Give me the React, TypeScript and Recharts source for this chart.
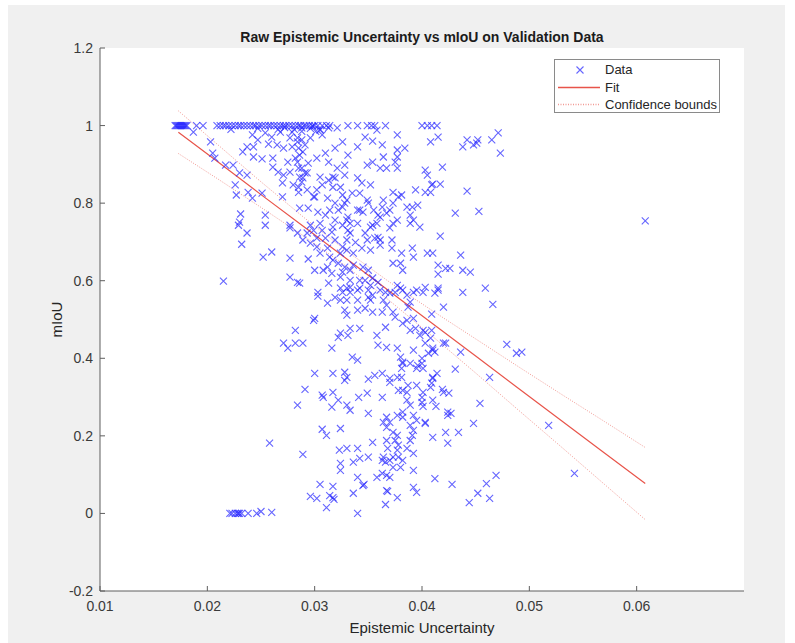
import { ComposedChart, Scatter, Line, XAxis, YAxis, ReferenceArea, Legend } from 'recharts'

// validation samples with a perfect score (mIoU = 1)
const perfectScoreX = [
  0.0170, 0.0171, 0.0172, 0.0173, 0.0174, 0.0175, 0.0176, 0.0177, 0.0178, 0.0179, 0.0180, 0.0181,
  0.0190, 0.0196, 0.0209, 0.0212, 0.0215, 0.0217, 0.0220, 0.0223, 0.0226, 0.0229, 0.0231, 0.0234,
  0.0237, 0.0240, 0.0243, 0.0245, 0.0248, 0.0251, 0.0254, 0.0257, 0.0259, 0.0262, 0.0265, 0.0268,
  0.0271, 0.0273, 0.0276, 0.0279, 0.0282, 0.0285, 0.0287, 0.0290, 0.0292, 0.0295, 0.0298, 0.0300,
  0.0303, 0.0307, 0.0311, 0.0314, 0.0331, 0.0340, 0.0349, 0.0353, 0.0356, 0.0366, 0.0400, 0.0405,
  0.0409, 0.0414,
]

// [uncertainty, mIoU] samples above 0.7
const upperBand: [number, number][] = [
  [0.0187, 0.983], [0.0203, 0.958], [0.0205, 0.929], [0.0207, 0.916], [0.0217, 0.898], [0.0224, 0.898],
  [0.0230, 0.878], [0.0237, 0.872], [0.0226, 0.847], [0.0227, 0.821], [0.0242, 0.813], [0.0251, 0.826],
  [0.0231, 0.772], [0.0254, 0.769], [0.0230, 0.751], [0.0233, 0.932], [0.0243, 0.945], [0.0237, 0.945],
  [0.0243, 0.919], [0.0251, 0.914], [0.0257, 0.952], [0.0265, 0.950], [0.0261, 0.916], [0.0261, 0.893],
  [0.0266, 0.880], [0.0271, 0.872], [0.0270, 0.852], [0.0277, 0.880], [0.0280, 0.847], [0.0285, 0.841],
  [0.0270, 0.816], [0.0289, 0.865], [0.0288, 0.890], [0.0284, 0.906], [0.0286, 0.924], [0.0275, 0.906],
  [0.0271, 0.942], [0.0279, 0.945], [0.0284, 0.958], [0.0288, 0.963], [0.0277, 0.968], [0.0242, 0.976],
  [0.0247, 0.963], [0.0254, 0.981], [0.0260, 0.970], [0.0268, 0.983], [0.0279, 0.983], [0.0254, 0.743],
  [0.0277, 0.743], [0.0238, 0.828], [0.0222, 0.990], [0.0247, 0.993], [0.0266, 0.990], [0.0272, 0.995],
  [0.0281, 0.990], [0.0288, 0.985], [0.0296, 0.993], [0.0301, 0.985], [0.0305, 0.990],
  [0.0326, 0.958], [0.0347, 0.970], [0.0354, 0.960], [0.0363, 0.950], [0.0377, 0.976], [0.0384, 0.942],
  [0.0340, 0.945], [0.0331, 0.924], [0.0328, 0.898], [0.0349, 0.898], [0.0354, 0.906], [0.0361, 0.890],
  [0.0364, 0.919], [0.0367, 0.890], [0.0377, 0.937], [0.0377, 0.919], [0.0375, 0.906], [0.0377, 0.890],
  [0.0403, 0.885], [0.0405, 0.872], [0.0409, 0.847], [0.0394, 0.834], [0.0373, 0.828], [0.0381, 0.821],
  [0.0364, 0.808], [0.0363, 0.790], [0.0391, 0.790], [0.0396, 0.795], [0.0389, 0.769], [0.0403, 0.828],
  [0.0352, 0.847], [0.0344, 0.852], [0.0340, 0.865], [0.0350, 0.800], [0.0340, 0.782], [0.0328, 0.800],
  [0.0326, 0.821], [0.0317, 0.841], [0.0313, 0.859], [0.0307, 0.847], [0.0300, 0.816], [0.0312, 0.813],
  [0.0319, 0.800], [0.0322, 0.782], [0.0294, 0.787], [0.0286, 0.787], [0.0303, 0.777], [0.0310, 0.769],
  [0.0331, 0.764], [0.0345, 0.777], [0.0359, 0.769], [0.0367, 0.774], [0.0285, 0.828], [0.0288, 0.854],
  [0.0291, 0.878], [0.0285, 0.890], [0.0294, 0.903], [0.0302, 0.916], [0.0310, 0.929], [0.0319, 0.942],
  [0.0313, 0.906], [0.0321, 0.890], [0.0319, 0.865], [0.0328, 0.872], [0.0289, 0.932], [0.0291, 0.950],
  [0.0305, 0.988], [0.0307, 0.976], [0.0313, 0.994], [0.0321, 0.994], [0.0298, 0.998], [0.0288, 0.994],
  [0.0284, 0.968], [0.0296, 0.968], [0.0285, 0.942], [0.0282, 0.916], [0.0286, 0.867], [0.0358, 0.988],
  [0.0378, 0.816], [0.0386, 0.790], [0.0392, 0.756], [0.0377, 0.756], [0.0354, 0.743], [0.0340, 0.748],
  [0.0330, 0.756], [0.0305, 0.748], [0.0296, 0.743], [0.0398, 0.738], [0.0370, 0.782], [0.0373, 0.800],
  [0.0342, 0.826], [0.0335, 0.826], [0.0330, 0.808], [0.0349, 0.808], [0.0299, 0.816], [0.0302, 0.834],
  [0.0293, 0.834], [0.0317, 0.867], [0.0305, 0.867], [0.0324, 0.841], [0.0293, 0.878], [0.0314, 0.782],
  [0.0326, 0.790], [0.0319, 0.756], [0.0342, 0.782], [0.0361, 0.764], [0.0355, 0.782],
  [0.0415, 0.970], [0.0408, 0.958], [0.0438, 0.945], [0.0442, 0.963], [0.0448, 0.950], [0.0451, 0.955],
  [0.0452, 0.963], [0.0465, 0.963], [0.0471, 0.981], [0.0473, 0.929], [0.0419, 0.893], [0.0410, 0.849],
  [0.0417, 0.849], [0.0408, 0.828], [0.0442, 0.831], [0.0431, 0.774], [0.0453, 0.779], [0.0417, 0.715],
  [0.0608, 0.754],
  [0.0370, 0.736], [0.0372, 0.705], [0.0361, 0.705], [0.0359, 0.712], [0.0356, 0.710], [0.0330, 0.705],
  [0.0331, 0.730], [0.0333, 0.723], [0.0347, 0.723], [0.0349, 0.705], [0.0319, 0.705], [0.0316, 0.725],
  [0.0307, 0.730], [0.0310, 0.710], [0.0302, 0.710], [0.0299, 0.730], [0.0293, 0.723], [0.0289, 0.705],
  [0.0284, 0.723], [0.0277, 0.736], [0.0317, 0.738], [0.0326, 0.743], [0.0333, 0.748], [0.0352, 0.738],
  [0.0358, 0.748], [0.0373, 0.748], [0.0389, 0.748], [0.0229, 0.743], [0.0237, 0.723],
]

// samples between 0.3 and 0.7
const middleBand: [number, number][] = [
  [0.0232, 0.694], [0.0215, 0.599], [0.0260, 0.674], [0.0252, 0.661], [0.0277, 0.658], [0.0294, 0.656],
  [0.0300, 0.627], [0.0277, 0.609], [0.0284, 0.596], [0.0286, 0.594], [0.0313, 0.594], [0.0303, 0.570],
  [0.0303, 0.560], [0.0312, 0.542], [0.0319, 0.557], [0.0300, 0.503], [0.0299, 0.498], [0.0282, 0.472],
  [0.0271, 0.439], [0.0275, 0.426], [0.0282, 0.439], [0.0289, 0.439], [0.0316, 0.426], [0.0324, 0.465],
  [0.0322, 0.454], [0.0333, 0.477], [0.0331, 0.459], [0.0342, 0.477], [0.0335, 0.403], [0.0340, 0.395],
  [0.0358, 0.459], [0.0359, 0.434], [0.0366, 0.480], [0.0367, 0.428], [0.0377, 0.426], [0.0380, 0.403],
  [0.0382, 0.387], [0.0392, 0.421], [0.0400, 0.400], [0.0401, 0.472], [0.0408, 0.452], [0.0410, 0.426],
  [0.0420, 0.439], [0.0436, 0.416], [0.0328, 0.524], [0.0330, 0.511], [0.0340, 0.524], [0.0347, 0.529],
  [0.0352, 0.550], [0.0354, 0.519], [0.0363, 0.519], [0.0364, 0.550], [0.0367, 0.537], [0.0373, 0.519],
  [0.0375, 0.506], [0.0382, 0.490], [0.0386, 0.498], [0.0389, 0.472], [0.0394, 0.477], [0.0340, 0.576],
  [0.0342, 0.581], [0.0350, 0.576], [0.0352, 0.588], [0.0354, 0.563], [0.0350, 0.557], [0.0333, 0.570],
  [0.0330, 0.550], [0.0324, 0.550], [0.0340, 0.550], [0.0330, 0.581], [0.0342, 0.601], [0.0347, 0.601],
  [0.0333, 0.601], [0.0324, 0.609], [0.0326, 0.622], [0.0333, 0.627], [0.0336, 0.640], [0.0345, 0.635],
  [0.0350, 0.627], [0.0354, 0.607], [0.0359, 0.596], [0.0361, 0.576], [0.0366, 0.570], [0.0370, 0.568],
  [0.0375, 0.570], [0.0380, 0.581], [0.0382, 0.576], [0.0377, 0.588], [0.0386, 0.563], [0.0389, 0.545],
  [0.0392, 0.570], [0.0387, 0.532], [0.0395, 0.576], [0.0401, 0.570], [0.0403, 0.583], [0.0415, 0.576],
  [0.0392, 0.503], [0.0398, 0.459], [0.0405, 0.671], [0.0391, 0.684], [0.0392, 0.661], [0.0381, 0.671],
  [0.0382, 0.627], [0.0373, 0.645], [0.0380, 0.645], [0.0372, 0.684], [0.0361, 0.692], [0.0352, 0.679],
  [0.0344, 0.684], [0.0336, 0.671], [0.0338, 0.699], [0.0326, 0.687], [0.0330, 0.679], [0.0324, 0.671],
  [0.0317, 0.653], [0.0322, 0.645], [0.0328, 0.635], [0.0312, 0.635], [0.0314, 0.661], [0.0296, 0.697],
  [0.0302, 0.687], [0.0305, 0.671], [0.0312, 0.684], [0.0308, 0.627], [0.0316, 0.619], [0.0324, 0.581],
  [0.0326, 0.570], [0.0333, 0.583],
  [0.0410, 0.671], [0.0436, 0.666], [0.0415, 0.640], [0.0422, 0.632], [0.0426, 0.632], [0.0438, 0.627],
  [0.0445, 0.622], [0.0415, 0.617], [0.0415, 0.581], [0.0412, 0.568], [0.0438, 0.570], [0.0459, 0.581],
  [0.0466, 0.539], [0.0420, 0.532], [0.0409, 0.514], [0.0409, 0.472], [0.0422, 0.439], [0.0479, 0.436],
  [0.0403, 0.467], [0.0403, 0.439], [0.0410, 0.421], [0.0406, 0.413], [0.0412, 0.416], [0.0488, 0.413],
  [0.0493, 0.416], [0.0400, 0.387], [0.0401, 0.374], [0.0431, 0.372], [0.0463, 0.351], [0.0410, 0.351],
  [0.0409, 0.336], [0.0408, 0.325], [0.0419, 0.320], [0.0425, 0.310],
  [0.0291, 0.320], [0.0300, 0.361], [0.0307, 0.305], [0.0317, 0.361], [0.0317, 0.312], [0.0328, 0.364],
  [0.0330, 0.351], [0.0328, 0.343], [0.0349, 0.310], [0.0350, 0.346], [0.0356, 0.356], [0.0363, 0.361],
  [0.0370, 0.348], [0.0370, 0.338], [0.0377, 0.351], [0.0382, 0.317], [0.0378, 0.317], [0.0381, 0.351],
  [0.0386, 0.312], [0.0387, 0.330], [0.0395, 0.330], [0.0414, 0.361], [0.0410, 0.348], [0.0395, 0.374],
  [0.0389, 0.387], [0.0382, 0.390], [0.0381, 0.374], [0.0396, 0.382], [0.0420, 0.312], [0.0401, 0.312],
]

// samples below 0.3, including the failed ones near zero
const lowerBand: [number, number][] = [
  [0.0221, 0], [0.0223, 0], [0.0226, 0], [0.0228, 0], [0.0229, 0], [0.0230, 0], [0.0232, 0], [0.0238, 0],
  [0.0246, 0], [0.0250, 0.005], [0.0260, 0.003], [0.0340, 0], [0.0258, 0.181],
  [0.0296, 0.044], [0.0302, 0.039], [0.0305, 0.075], [0.0311, 0.015], [0.0314, 0.046], [0.0317, 0.070],
  [0.0318, 0.036], [0.0336, 0.052], [0.0345, 0.072], [0.0346, 0.075], [0.0366, 0.023], [0.0368, 0.057],
  [0.0377, 0.041],
  [0.0284, 0.279], [0.0289, 0.152], [0.0308, 0.299], [0.0307, 0.217], [0.0311, 0.201], [0.0322, 0.292],
  [0.0316, 0.274], [0.0324, 0.219], [0.0323, 0.163], [0.0330, 0.168], [0.0340, 0.168], [0.0324, 0.129],
  [0.0324, 0.111], [0.0330, 0.279], [0.0333, 0.266], [0.0336, 0.132], [0.0342, 0.142], [0.0350, 0.145],
  [0.0354, 0.183], [0.0341, 0.299], [0.0350, 0.258], [0.0363, 0.299], [0.0386, 0.292], [0.0389, 0.279],
  [0.0382, 0.261], [0.0377, 0.253], [0.0382, 0.248], [0.0392, 0.253], [0.0395, 0.240], [0.0403, 0.235],
  [0.0367, 0.248], [0.0364, 0.235], [0.0370, 0.235], [0.0367, 0.222], [0.0389, 0.227], [0.0392, 0.214],
  [0.0391, 0.201], [0.0389, 0.188], [0.0386, 0.168], [0.0392, 0.155], [0.0373, 0.209], [0.0377, 0.201],
  [0.0375, 0.188], [0.0378, 0.176], [0.0367, 0.188], [0.0368, 0.168], [0.0377, 0.163], [0.0378, 0.145],
  [0.0373, 0.145], [0.0364, 0.145], [0.0363, 0.137], [0.0366, 0.132], [0.0370, 0.137], [0.0382, 0.137],
  [0.0373, 0.119], [0.0380, 0.119], [0.0363, 0.103], [0.0367, 0.098], [0.0370, 0.093], [0.0358, 0.093],
  [0.0340, 0.093], [0.0367, 0.059], [0.0317, 0.041], [0.0392, 0.111], [0.0410, 0.292], [0.0424, 0.261],
  [0.0400, 0.299],
  [0.0400, 0.286], [0.0401, 0.276], [0.0413, 0.276], [0.0454, 0.284], [0.0424, 0.253], [0.0427, 0.258],
  [0.0403, 0.232], [0.0448, 0.232], [0.0422, 0.209], [0.0434, 0.209], [0.0410, 0.196], [0.0424, 0.181],
  [0.0518, 0.227], [0.0542, 0.103], [0.0412, 0.090], [0.0428, 0.075], [0.0469, 0.098], [0.0460, 0.077],
  [0.0452, 0.052], [0.0444, 0.028], [0.0463, 0.039], [0.0392, 0.067], [0.0395, 0.054],
]

// linear fit and its confidence bounds
const fitX = [0.0173, 0.021, 0.025, 0.029, 0.033, 0.037, 0.041, 0.045, 0.049, 0.053, 0.057, 0.0608]
const fitY = [0.983, 0.906, 0.822, 0.739, 0.656, 0.572, 0.489, 0.406, 0.322, 0.239, 0.156, 0.077]
const upperBound = [1.038, 0.950, 0.855, 0.763, 0.676, 0.596, 0.522, 0.450, 0.378, 0.307, 0.237, 0.170]
const lowerBound = [0.928, 0.862, 0.789, 0.715, 0.636, 0.548, 0.456, 0.362, 0.266, 0.171, 0.075, -0.016]

const xTicks = [0.01, 0.02, 0.03, 0.04, 0.05, 0.06]
const yTicks = [-0.2, 0, 0.2, 0.4, 0.6, 0.8, 1, 1.2]

const points = [
  ...perfectScoreX.map((x) => ({ x, y: 1 })),
  ...[...upperBand, ...middleBand, ...lowerBand].map(([x, y]) => ({ x, y })),
]
const fitData = fitX.map((x, i) => ({ x, fit: fitY[i], upper: upperBound[i], lower: lowerBound[i] }))

const FONT = '"Liberation Sans", Arial, Helvetica, sans-serif'
const AXIS = '#5e5e5e'
const TEXT = '#3a3a3a'
const MARK = '#2424ff'
const FIT = '#e8544a'
const BOUND = '#f29a94'
const TICK_LEN = 5
const X_MARGIN = 10
const Y_MARGIN = 7

const XMark = ({ cx, cy }: any) => (
  <path
    d={`M${cx - 3.5},${cy - 3.5}L${cx + 3.5},${cy + 3.5}M${cx - 3.5},${cy + 3.5}L${cx + 3.5},${cy - 3.5}`}
    stroke={MARK}
    strokeOpacity={0.7}
    strokeWidth={1.1}
    fill="none"
  />
)

const BottomTick = ({ x, y, payload }: any) => (
  <g>
    <line x1={x} x2={x} y1={y - X_MARGIN} y2={y - X_MARGIN - TICK_LEN} stroke={AXIS} />
    <text x={x} y={y} dy="0.71em" textAnchor="middle" fill={TEXT} fontSize={14} fontFamily={FONT}>
      {String(payload.value)}
    </text>
  </g>
)

const TopTick = ({ x, y }: any) => <line x1={x} x2={x} y1={y} y2={y + TICK_LEN} stroke={AXIS} />

const LeftTick = ({ x, y, payload }: any) => (
  <g>
    <line x1={x + Y_MARGIN} x2={x + Y_MARGIN + TICK_LEN} y1={y} y2={y} stroke={AXIS} />
    <text x={x} y={y} dy="0.355em" textAnchor="end" fill={TEXT} fontSize={14} fontFamily={FONT}>
      {String(payload.value)}
    </text>
  </g>
)

const RightTick = ({ x, y }: any) => <line x1={x} x2={x - TICK_LEN} y1={y} y2={y} stroke={AXIS} />

const LegendBox = () => (
  <div
    style={{
      position: 'relative',
      width: 166,
      height: 54,
      boxSizing: 'border-box',
      border: '1px solid #8a8a8a',
      background: '#fff',
      fontFamily: FONT,
      fontSize: 13,
      color: '#262626',
    }}
  >
    <svg width={164} height={52} style={{ position: 'absolute', left: 0, top: 0 }}>
      <XMark cx={25} cy={10} />
      <line x1={3} x2={45} y1={27.5} y2={27.5} stroke={FIT} strokeWidth={1.7} />
      <line x1={3} x2={45} y1={44.5} y2={44.5} stroke={BOUND} strokeWidth={1.3} strokeDasharray="1 1.5" />
    </svg>
    <div style={{ position: 'absolute', left: 50, top: 1, lineHeight: '17.5px', whiteSpace: 'nowrap' }}>
      Data
      <br />
      Fit
      <br />
      Confidence bounds
    </div>
  </div>
)

export default function App() {
  return (
    <div style={{ position: 'absolute', left: 0, top: 0, width: 795, height: 643, background: '#fff' }}>
      <div style={{ position: 'absolute', left: 8, top: 5, width: 777, height: 638, background: '#f0f0f0' }} />
      <div
        style={{
          position: 'absolute',
          left: 100,
          top: 29,
          width: 644,
          textAlign: 'center',
          fontFamily: FONT,
          fontSize: 14,
          fontWeight: 'bold',
          color: '#1c1c1c',
        }}
      >
        Raw Epistemic Uncertainty vs mIoU on Validation Data
      </div>
      <div style={{ position: 'absolute', left: 0, top: 0 }}>
        <ComposedChart width={795} height={643} margin={{ top: 48, right: 51, bottom: 0, left: 0 }}>
          <ReferenceArea x1={0.01} x2={0.07} y1={-0.2} y2={1.2} fill="#ffffff" fillOpacity={1} stroke="none" />
          <XAxis
            dataKey="x"
            type="number"
            domain={[0.01, 0.07]}
            ticks={xTicks}
            interval={0}
            height={52}
            tickSize={0}
            tickMargin={X_MARGIN}
            tick={<BottomTick />}
            axisLine={{ stroke: AXIS }}
            label={{
              value: 'Epistemic Uncertainty',
              position: 'insideBottom',
              offset: 10,
              style: { fontFamily: FONT, fontSize: 15, fill: '#262626' },
            }}
          />
          <XAxis
            xAxisId="top"
            orientation="top"
            dataKey="x"
            type="number"
            domain={[0.01, 0.07]}
            ticks={xTicks}
            interval={0}
            height={0}
            tickSize={0}
            tickMargin={0}
            tick={<TopTick />}
            axisLine={{ stroke: AXIS }}
          />
          <YAxis
            type="number"
            domain={[-0.2, 1.2]}
            ticks={yTicks}
            interval={0}
            width={100}
            tickSize={0}
            tickMargin={Y_MARGIN}
            tick={<LeftTick />}
            axisLine={{ stroke: AXIS }}
            label={{
              value: 'mIoU',
              angle: -90,
              position: 'insideLeft',
              offset: 57,
              style: { fontFamily: FONT, fontSize: 15, fill: '#262626', textAnchor: 'middle' },
            }}
          />
          <YAxis
            yAxisId="right"
            orientation="right"
            type="number"
            domain={[-0.2, 1.2]}
            ticks={yTicks}
            interval={0}
            width={0}
            tickSize={0}
            tickMargin={0}
            tick={<RightTick />}
            axisLine={{ stroke: AXIS }}
          />
          <Scatter data={points} dataKey="y" shape={<XMark />} isAnimationActive={false} />
          <Line
            data={fitData}
            dataKey="upper"
            type="linear"
            stroke={BOUND}
            strokeDasharray="1 1.5"
            dot={false}
            activeDot={false}
            isAnimationActive={false}
          />
          <Line
            data={fitData}
            dataKey="lower"
            type="linear"
            stroke={BOUND}
            strokeDasharray="1 1.5"
            dot={false}
            activeDot={false}
            isAnimationActive={false}
          />
          <Line
            data={fitData}
            dataKey="fit"
            type="linear"
            stroke={FIT}
            strokeWidth={1.2}
            dot={false}
            activeDot={false}
            isAnimationActive={false}
          />
          <Legend
            layout="horizontal"
            align="center"
            verticalAlign="middle"
            content={<LegendBox />}
            wrapperStyle={{ position: 'absolute', left: 554, top: 59, width: 166, height: 54 }}
          />
        </ComposedChart>
      </div>
    </div>
  )
}
